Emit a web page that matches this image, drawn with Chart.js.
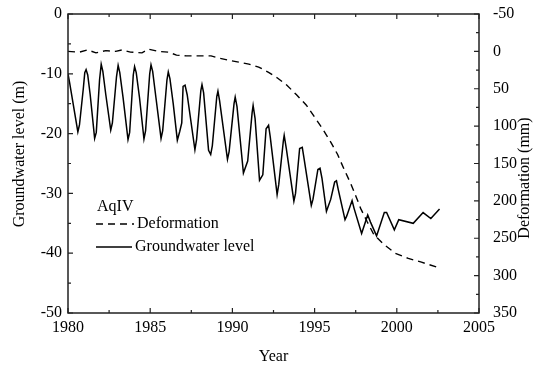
<!DOCTYPE html>
<html>
<head>
<meta charset="utf-8">
<script src="https://cdn.jsdelivr.net/npm/chart.js@4.4.0/dist/chart.umd.min.js"></script>
<style>
    html, body { margin: 0; padding: 0; background: #fff; }
    #wrap { width: 534px; height: 368px; }
</style>
</head>
<body>
<div id="wrap"><canvas id="chartAqIV"></canvas></div>
<script>
// groundwater level (m)
const gwYears = [
    1980.0, 1980.1, 1980.6, 1980.7, 1980.93, 1981.02, 1981.1, 1981.2, 1981.35, 1981.62,
    1981.72, 1981.92, 1982.02, 1982.12, 1982.3, 1982.6, 1982.7, 1982.95, 1983.05, 1983.15,
    1983.35, 1983.65, 1983.75, 1983.97, 1984.05, 1984.15, 1984.35, 1984.62, 1984.72, 1984.97,
    1985.05, 1985.15, 1985.35, 1985.66, 1985.76, 1986.02, 1986.1, 1986.2, 1986.4, 1986.65,
    1986.8, 1986.92, 1987.0, 1987.12, 1987.25, 1987.72, 1987.82, 1988.08, 1988.15, 1988.25,
    1988.55, 1988.68, 1988.78, 1989.05, 1989.12, 1989.22, 1989.7, 1989.8, 1990.1, 1990.17,
    1990.28, 1990.67, 1990.93, 1991.2, 1991.26, 1991.38, 1991.65, 1991.85, 1992.05, 1992.2,
    1992.3, 1992.72, 1992.82, 1993.1, 1993.15, 1993.28, 1993.74, 1993.84, 1994.09, 1994.25,
    1994.35, 1994.8, 1994.9, 1995.2, 1995.33, 1995.45, 1995.72, 1995.98, 1996.22, 1996.33,
    1996.45, 1996.85, 1996.95, 1997.28, 1997.4, 1997.86, 1998.23, 1998.4, 1998.77, 1998.87,
    1999.24, 1999.38, 1999.85, 2000.12, 2001.0, 2001.6, 2002.07, 2002.6,
];
const gwLevels = [
    -10.0, -11.5, -19.7, -18.5, -12.5, -9.8, -9.3, -10.2, -13.5, -20.8,
    -19.8, -11.0, -8.4, -9.6, -13.5, -19.4, -18.2, -10.5, -8.6, -9.8,
    -14.0, -21.0, -19.8, -10.2, -8.8, -9.8, -14.0, -20.9, -19.5, -10.0,
    -8.5, -9.6, -14.0, -20.8, -19.5, -11.0, -9.7, -10.8, -15.0, -21.1,
    -19.6, -18.2, -12.1, -11.9, -13.5, -22.7, -21.0, -12.8, -11.8, -13.2,
    -22.8, -23.5, -22.0, -13.8, -12.9, -14.5, -24.3, -23.0, -15.0, -13.9,
    -15.5, -26.6, -24.6, -16.5, -15.3, -17.5, -27.8, -26.9, -19.2, -18.6,
    -20.5, -30.2, -28.5, -21.2, -20.3, -22.5, -31.3, -30.0, -22.5, -22.3,
    -24.0, -32.0, -31.0, -26.0, -25.8, -27.5, -33.0, -31.0, -28.1, -27.9,
    -29.5, -34.4, -33.8, -31.2, -32.5, -36.7, -33.6, -34.8, -37.1, -36.3,
    -33.2, -33.2, -36.1, -34.4, -35.0, -33.2, -34.2, -32.6,
];

// deformation (mm)
const defYears = [
    1980.0, 1980.7, 1981.2, 1981.7, 1982.3, 1982.9, 1983.3, 1983.8, 1984.5, 1984.9,
    1985.5, 1986.1, 1986.6, 1987.2, 1988.0, 1988.7, 1989.2, 1989.8, 1990.3, 1991.0,
    1991.6, 1992.2, 1992.7, 1993.3, 1993.9, 1994.5, 1995.0, 1995.5, 1996.0, 1996.4,
    1996.8, 1997.2, 1997.5, 1997.8, 1998.2, 1998.6, 1999.2, 1999.9, 2000.7, 2001.5,
    2002.5,
];
const defValues = [
    0, 1, -2, 2, -1, 0, -2, 1, 2, -3,
    0, 1, 5, 6, 6, 6, 9, 12, 14, 17,
    21, 28, 35, 45, 58, 72, 88, 104, 122, 138,
    158, 177, 193, 210, 228, 245, 258, 270, 277, 282,
    289,
];

const serif = "'Liberation Serif', 'DejaVu Serif', serif";

const toPoints = (xs, ys) => xs.map((x, i) => ({ x: x, y: ys[i] }));

// keep the plot box where the reference has it
const fixWidth = (w) => (scale) => {
    scale.width = w;
    scale.paddingTop = 0;
    scale.paddingBottom = 0;
};

// frame, inward ticks, axis titles and the legend box
const framePlugin = {
    id: "framePlugin",
    afterDatasetsDraw: (chart) => {
        const ctx = chart.ctx;
        const a = chart.chartArea;
        const sx = chart.scales.x;
        const sy = chart.scales.y;
        const sy2 = chart.scales.y2;
        ctx.save();
        ctx.strokeStyle = "#222";
        ctx.lineWidth = 1.5;
        ctx.setLineDash([]);
        ctx.strokeRect(a.left, a.top, a.right - a.left, a.bottom - a.top);

        ctx.lineWidth = 1.2;
        ctx.beginPath();
        for (let v = 1980; v <= 2005; v += 2.5) {
            const px = sx.getPixelForValue(v);
            const len = v % 5 === 0 ? 5 : 3;
            ctx.moveTo(px, a.bottom);
            ctx.lineTo(px, a.bottom - len);
            ctx.moveTo(px, a.top);
            ctx.lineTo(px, a.top + len);
        }
        for (let v = -50; v <= 0; v += 5) {
            const py = sy.getPixelForValue(v);
            const len = v % 10 === 0 ? 5 : 3;
            ctx.moveTo(a.left, py);
            ctx.lineTo(a.left + len, py);
        }
        for (let v = -50; v <= 350; v += 25) {
            const py = sy2.getPixelForValue(v);
            const len = v % 50 === 0 ? 5 : 3;
            ctx.moveTo(a.right, py);
            ctx.lineTo(a.right - len, py);
        }
        ctx.stroke();

        // axis titles
        ctx.fillStyle = "#000";
        ctx.font = "16px " + serif;
        ctx.textAlign = "center";
        ctx.textBaseline = "middle";
        ctx.fillText("Year", (a.left + a.right) / 2, 357);
        ctx.save();
        ctx.translate(20, 154);
        ctx.rotate(-Math.PI / 2);
        ctx.fillText("Groundwater level (m)", 0, 0);
        ctx.restore();
        ctx.save();
        ctx.translate(525, 178);
        ctx.rotate(-Math.PI / 2);
        ctx.fillText("Deformation (mm)", 0, 0);
        ctx.restore();

        // legend
        ctx.textAlign = "left";
        ctx.fillText("AqIV", 97, 207);
        ctx.fillText("Deformation", 137, 224);
        ctx.fillText("Groundwater level", 135, 247);
        ctx.strokeStyle = "#000";
        ctx.lineWidth = 1.4;
        ctx.beginPath();
        ctx.setLineDash([7, 5]);
        ctx.moveTo(96, 224);
        ctx.lineTo(134, 224);
        ctx.stroke();
        ctx.beginPath();
        ctx.setLineDash([]);
        ctx.lineWidth = 1.5;
        ctx.moveTo(96, 247);
        ctx.lineTo(132, 247);
        ctx.stroke();
        ctx.restore();
    },
};

const ctxAqIV = document.getElementById("chartAqIV").getContext("2d");

const chartAqIV = new Chart(ctxAqIV, {
    type: "scatter",
    data: {
        datasets: [
            {
                label: "Deformation",
                data: toPoints(defYears, defValues),
                yAxisID: "y2",
                showLine: true,
                borderColor: "#000",
                borderWidth: 1.4,
                borderDash: [7, 5],
                pointRadius: 0,
                tension: 0,
            },
            {
                label: "Groundwater level",
                data: toPoints(gwYears, gwLevels),
                yAxisID: "y",
                showLine: true,
                borderColor: "#000",
                borderWidth: 1.5,
                pointRadius: 0,
                tension: 0,
            },
        ],
    },
    options: {
        responsive: true,
        maintainAspectRatio: false,
        animation: false,
        layout: {
            padding: { top: 14, left: 0, right: 0, bottom: 0 },
        },
        plugins: {
            legend: { display: false },
            tooltip: { enabled: false },
        },
        scales: {
            x: {
                type: "linear",
                min: 1980,
                max: 2005,
                afterFit: (scale) => {
                    scale.height = 55;
                    scale.paddingLeft = 0;
                    scale.paddingRight = 0;
                },
                grid: { display: false, drawTicks: false },
                border: { display: false },
                ticks: {
                    stepSize: 5,
                    padding: 5,
                    color: "#000",
                    font: { family: serif, size: 16 },
                    callback: (value) => String(value),
                },
            },
            y: {
                position: "left",
                min: -50,
                max: 0,
                afterFit: fixWidth(68),
                grid: { display: false, drawTicks: false },
                border: { display: false },
                ticks: {
                    stepSize: 10,
                    padding: 6,
                    color: "#000",
                    font: { family: serif, size: 16 },
                    callback: (value) => String(value),
                },
            },
            y2: {
                position: "right",
                reverse: true,
                min: -50,
                max: 350,
                afterFit: fixWidth(55),
                grid: { display: false, drawTicks: false },
                border: { display: false },
                ticks: {
                    stepSize: 50,
                    padding: 14,
                    color: "#000",
                    font: { family: serif, size: 16 },
                    callback: (value) => String(value),
                },
            },
        },
    },
    plugins: [framePlugin],
});
</script>
</body>
</html>
